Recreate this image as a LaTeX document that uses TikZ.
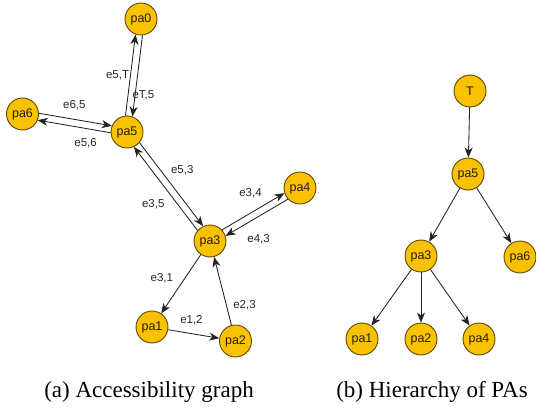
\documentclass[tikz,border=0pt]{standalone}
\usepackage{fontspec}
\setmainfont{Liberation Serif}
\setsansfont{Liberation Sans}
\usetikzlibrary{calc, arrows.meta}

\definecolor{pafill}{RGB}{248,194,0}
\definecolor{padraw}{RGB}{95,72,10}
\definecolor{patext}{RGB}{40,28,0}
\definecolor{edgecol}{RGB}{35,35,35}

\tikzset{
  pa/.style={circle, draw=padraw, fill=pafill, text=patext, line width=0.9pt,
    minimum size=32pt, inner sep=0pt, font=\sffamily\fontsize{12.5}{12.5}\selectfont},
  link/.style={draw=edgecol, line width=0.85pt,
    -{Stealth[length=10pt, width=8pt, inset=3pt]}},
  dlink/.style={link, shorten <=16pt, shorten >=16pt},
  elabel/.style={font=\sffamily\fontsize{11.5}{12}\selectfont, text=black!85, inner sep=0.5pt},
  caption/.style={font=\fontsize{23}{27}\selectfont, anchor=base, inner sep=0pt}
}

\begin{document}
\begin{tikzpicture}[x=1pt, y=-1pt]
  \useasboundingbox (0,0) rectangle (536,412);
  % accessibility graph
  \node[pa] (pa0) at (141,19) {pa0};
  \node[pa] (pa6) at (22.5,114) {pa6};
  \node[pa] (pa5) at (127,132) {pa5};
  \node[pa] (pa4) at (300,188) {pa4};
  \node[pa] (pa3) at (210,241) {pa3};
  \node[pa] (pa1) at (152,327) {pa1};
  \node[pa] (pa2) at (235.5,341) {pa2};
  % paired edges, each shifted to its own left
  \draw[dlink] ($(pa5)!3.5pt!90:(pa0)$) -- node[elabel, pos=.5, left=0.5pt] {e5,T} ($(pa0)!3.5pt!-90:(pa5)$);
  \draw[dlink] ($(pa0)!3.5pt!90:(pa5)$) -- node[elabel, pos=.67, right=-3.5pt] {eT,5} ($(pa5)!3.5pt!-90:(pa0)$);
  \draw[dlink] ($(pa6)!3.5pt!90:(pa5)$) -- node[elabel, pos=.49, above=8.5pt] {e6,5} ($(pa5)!3.5pt!-90:(pa6)$);
  \draw[dlink] ($(pa5)!3.5pt!90:(pa6)$) -- node[elabel, pos=.39, below=9.5pt] {e5,6} ($(pa6)!3.5pt!-90:(pa5)$);
  \draw[dlink] ($(pa5)!3.5pt!90:(pa3)$) -- node[elabel, pos=.45, above right=3pt] {e5,3} ($(pa3)!3.5pt!-90:(pa5)$);
  \draw[dlink] ($(pa3)!3.5pt!90:(pa5)$) -- node[elabel, pos=.45, below left=4.5pt] {e3,5} ($(pa5)!3.5pt!-90:(pa3)$);
  \draw[dlink] ($(pa3)!3.5pt!90:(pa4)$) -- node[elabel, pos=.47, above=14.5pt] {e3,4} ($(pa4)!3.5pt!-90:(pa3)$);
  \draw[dlink] ($(pa4)!3.5pt!90:(pa3)$) -- node[elabel, pos=.48, below=17pt] {e4,3} ($(pa3)!3.5pt!-90:(pa4)$);
  % single edges
  \draw[link] (pa3) -- node[elabel, pos=.4, left=11pt] {e3,1} (pa1);
  \draw[link] (pa2) -- node[elabel, pos=.29, right=6pt] {e2,3} (pa3);
  \draw[link] (pa1) -- node[elabel, pos=.455, above=7.5pt] {e1,2} (pa2);

  % hierarchy of PAs
  \node[pa] (tT) at (470,91) {T};
  \node[pa] (tpa5) at (468,174) {pa5};
  \node[pa] (tpa3) at (421,256) {pa3};
  \node[pa] (tpa6) at (520,257) {pa6};
  \node[pa] (tpa1) at (362,339) {pa1};
  \node[pa] (tpa2) at (421,339) {pa2};
  \node[pa] (tpa4) at (479,339) {pa4};
  \draw[link] (tT) -- (tpa5);
  \draw[link] (tpa5) -- (tpa3);
  \draw[link] (tpa5) -- (tpa6);
  \draw[link] (tpa3) -- (tpa1);
  \draw[link] (tpa3) -- (tpa2);
  \draw[link] (tpa3) -- (tpa4);

  % captions
  \node[caption] (capa) at (149,397) {(a) Accessibility graph};
  \node[caption] (capb) at (432,397) {(b) Hierarchy of PAs};
\end{tikzpicture}
\end{document}
